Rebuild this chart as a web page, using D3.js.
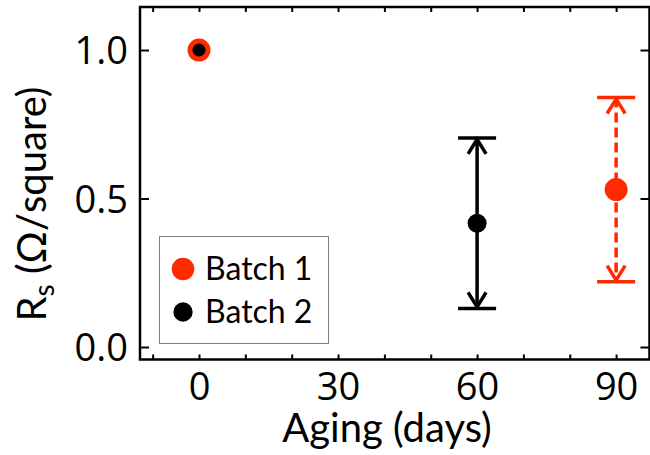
<!DOCTYPE html>
<html>
<head>
<meta charset="utf-8">
<script src="https://cdn.jsdelivr.net/npm/d3@7"></script>
<style>
  body { margin: 0; background: #fff; }
  svg { display: block; }
</style>
</head>
<body>
<div id="chart"></div>
<script>
// Data
var seriesNames = ["Batch 1", "Batch 2"];
var seriesColors = ["#ff2a00", "#000000"];

var batch1Days = [0, 90];
var batch1Rs = [1.0, 0.53];
var batch1Err = [0, 0.31];

var batch2Days = [0, 60];
var batch2Rs = [1.0, 0.417];
var batch2Err = [0, 0.287];

var xTicks = [-10, 0, 10, 20, 30, 40, 50, 60, 70, 80, 90];
var xLabels = [0, 30, 60, 90];
var yTicks = [0, 0.5, 1.0];

// Frame of the plot
var W = 650, H = 455;
var frame = {left: 140, right: 649.5, top: 7, bottom: 359.5};

var svg = d3.select('#chart').append('svg')
  .attr('width', W)
  .attr('height', H);

var x = d3.scaleLinear()
  .domain([-12.73, 97.2])
  .range([frame.left, frame.right]);

var y = d3.scaleLinear()
  .domain([-0.042, 1.1448])
  .range([frame.bottom, frame.top]);

var tickFont = "'Open Sans', 'Liberation Sans', sans-serif";
var textFont = "Lato, 'Open Sans', sans-serif";

// Axes, ticks pointing inward, mirrored on top and right
var xAxis = d3.axisBottom(x)
  .tickValues(xTicks)
  .tickSizeInner(-5)
  .tickSizeOuter(0)
  .tickPadding(13.5)
  .tickFormat(function(d) { return xLabels.indexOf(d) >= 0 ? d : ""; });

var gx = svg.append('g')
  .attr('transform', 'translate(0,' + frame.bottom + ')')
  .call(xAxis);

svg.append('g')
  .attr('transform', 'translate(0,' + frame.top + ')')
  .call(d3.axisTop(x).tickValues(xTicks).tickSizeInner(-5).tickSizeOuter(0).tickFormat(""));

var yAxis = d3.axisLeft(y)
  .tickValues(yTicks)
  .tickSizeInner(-9)
  .tickSizeOuter(0)
  .tickPadding(12)
  .tickFormat(d3.format('.1f'));

var gy = svg.append('g')
  .attr('transform', 'translate(' + frame.left + ',0)')
  .call(yAxis);

svg.append('g')
  .attr('transform', 'translate(' + frame.right + ',0)')
  .call(d3.axisRight(y).tickValues(yTicks).tickSizeInner(-9).tickSizeOuter(0).tickFormat(""));

svg.selectAll('.domain').remove();
svg.selectAll('.tick line')
  .attr('stroke', '#000')
  .attr('stroke-width', 2);

gx.selectAll('text')
  .style('font-family', tickFont)
  .style('font-size', '38px')
  .attr('fill', '#000');

gy.selectAll('text')
  .attr('dy', '0.36em')
  .style('font-family', tickFont)
  .style('font-size', '38px')
  .attr('fill', '#000');

// Frame
svg.append('rect')
  .attr('x', frame.left)
  .attr('y', frame.top)
  .attr('width', frame.right - frame.left)
  .attr('height', frame.bottom - frame.top)
  .attr('fill', 'none')
  .attr('stroke', '#000')
  .attr('stroke-width', 2.5);

// Error bars with arrow heads
var capHalf = 19, headHalf = 9, headLen = 16;

function errorBars(days, vals, errs, color, dashed) {
  var g = svg.append('g');
  days.forEach(function(d, i) {
    if (!errs[i]) return;
    var cx = x(d);
    var yHi = y(vals[i] + errs[i]);
    var yLo = y(vals[i] - errs[i]);

    g.append('line')
      .attr('x1', cx).attr('x2', cx)
      .attr('y1', yHi).attr('y2', yLo)
      .attr('stroke', color)
      .attr('stroke-width', 3.5)
      .attr('stroke-dasharray', dashed ? '10,5' : null);

    [yHi, yLo].forEach(function(yy, k) {
      var s = k === 0 ? 1 : -1;
      g.append('line')
        .attr('x1', cx - capHalf).attr('x2', cx + capHalf)
        .attr('y1', yy).attr('y2', yy)
        .attr('stroke', color)
        .attr('stroke-width', 3.5);
      g.append('path')
        .attr('d', 'M' + (cx - headHalf) + ',' + (yy + s * headLen) +
                   'L' + cx + ',' + (yy + s * 1.5) +
                   'L' + (cx + headHalf) + ',' + (yy + s * headLen))
        .attr('fill', 'none')
        .attr('stroke', color)
        .attr('stroke-width', 3.5);
    });
  });
}

errorBars(batch2Days, batch2Rs, batch2Err, seriesColors[1], false);
errorBars(batch1Days, batch1Rs, batch1Err, seriesColors[0], true);

// Points
svg.append('g').selectAll('circle')
  .data(batch1Days)
  .enter()
  .append('circle')
  .attr('cx', function(d) { return x(d); })
  .attr('cy', function(d, i) { return y(batch1Rs[i]); })
  .attr('r', 11.5)
  .attr('fill', seriesColors[0]);

svg.append('g').selectAll('circle')
  .data(batch2Days)
  .enter()
  .append('circle')
  .attr('cx', function(d) { return x(d); })
  .attr('cy', function(d, i) { return y(batch2Rs[i]); })
  .attr('r', function(d) { return d === 0 ? 6.5 : 9.5; })
  .attr('fill', seriesColors[1]);

// Axis titles
svg.append('text')
  .attr('x', 387)
  .attr('y', 442)
  .attr('text-anchor', 'middle')
  .style('font-family', textFont)
  .style('font-size', '40px')
  .text('Aging (days)');

var yTitle = svg.append('text')
  .attr('transform', 'translate(46,204) rotate(-90)')
  .attr('text-anchor', 'middle')
  .style('font-family', textFont)
  .style('font-size', '40px');
yTitle.append('tspan').text('R');
yTitle.append('tspan').attr('dy', 8).style('font-size', '28px').text('s');
yTitle.append('tspan').attr('dy', -8).text(' (Ω/square)');

// Legend
var legend = svg.append('g');
legend.append('rect')
  .attr('x', 159.5)
  .attr('y', 236.5)
  .attr('width', 169)
  .attr('height', 107)
  .attr('fill', '#fff')
  .attr('stroke', '#808080')
  .attr('stroke-width', 1);

var legendY = [269, 312];
var legendR = [11.3, 9.7];

legend.selectAll('circle')
  .data(seriesNames)
  .enter()
  .append('circle')
  .attr('cx', 183)
  .attr('cy', function(d, i) { return legendY[i]; })
  .attr('r', function(d, i) { return legendR[i]; })
  .attr('fill', function(d, i) { return seriesColors[i]; });

legend.selectAll('text')
  .data(seriesNames)
  .enter()
  .append('text')
  .attr('x', 205)
  .attr('y', function(d, i) { return legendY[i] + 11; })
  .style('font-family', textFont)
  .style('font-size', '32px')
  .text(function(d) { return d; });
</script>
</body>
</html>
